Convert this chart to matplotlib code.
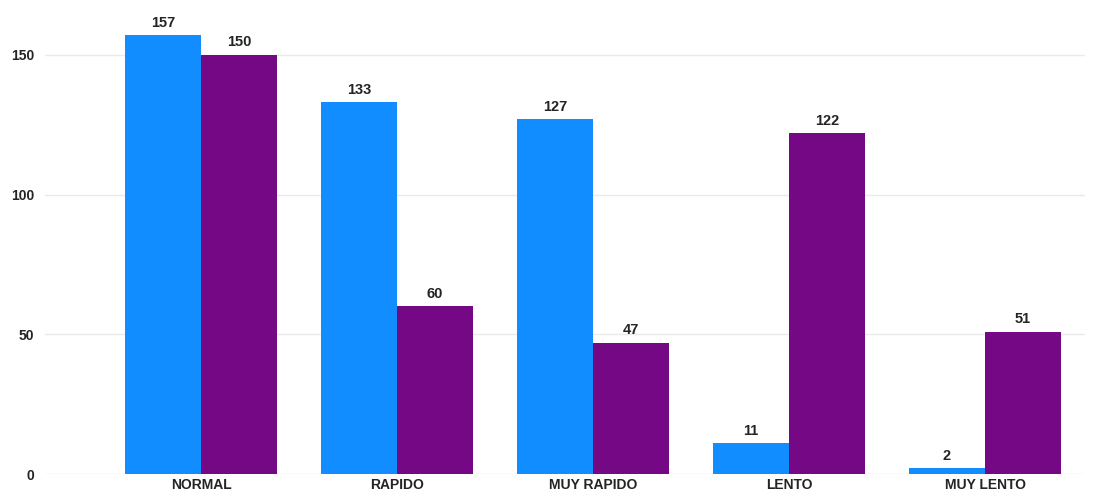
import matplotlib
matplotlib.use("Agg")
import matplotlib.pyplot as plt
import numpy as np

categories = ["NORMAL", "RAPIDO", "MUY RAPIDO", "LENTO", "MUY LENTO"]
series_a = [157, 133, 127, 11, 2]
series_b = [150, 60, 47, 122, 51]
yticks = [0, 50, 100, 150]

color_a = "#118DFF"
color_b = "#750985"
text_color = "#252423"

plt.rcParams["font.family"] = ["Liberation Sans", "DejaVu Sans"]

W, H = 1099, 494
fig = plt.figure(figsize=(W / 100, H / 100), dpi=100)
ax = fig.add_axes([45 / W, 20 / H, (1085 - 45) / W, (474 - 27) / H])

x = np.arange(len(categories))
bw = 0.388
bars_a = ax.bar(x - bw / 2, series_a, width=bw, color=color_a, zorder=3)
bars_b = ax.bar(x + bw / 2, series_b, width=bw, color=color_b, zorder=3)

for bars, vals in ((bars_a, series_a), (bars_b, series_b)):
    for b, v in zip(bars, vals):
        ax.annotate(str(v), (b.get_x() + b.get_width() / 2, v),
                    xytext=(0, 4), textcoords="offset points",
                    ha="center", va="bottom", fontsize=10.5, fontweight="bold",
                    color=text_color, clip_on=False)

ax.set_xlim(-0.796, 4.51)
ax.set_ylim(0, 160)
ax.set_yticks(yticks)
ax.set_xticks(x)
ax.set_xticklabels(categories)
for lab in ax.get_xticklabels() + ax.get_yticklabels():
    lab.set_fontweight("bold")
    lab.set_fontsize(10)
    lab.set_color(text_color)

ax.tick_params(axis="both", length=0)
ax.tick_params(axis="y", pad=8)
ax.tick_params(axis="x", pad=3)
ax.grid(axis="y", color="#EAEAEA", linewidth=1, zorder=0)
for s in ax.spines.values():
    s.set_visible(False)

fig.savefig("out.png", dpi=100)
